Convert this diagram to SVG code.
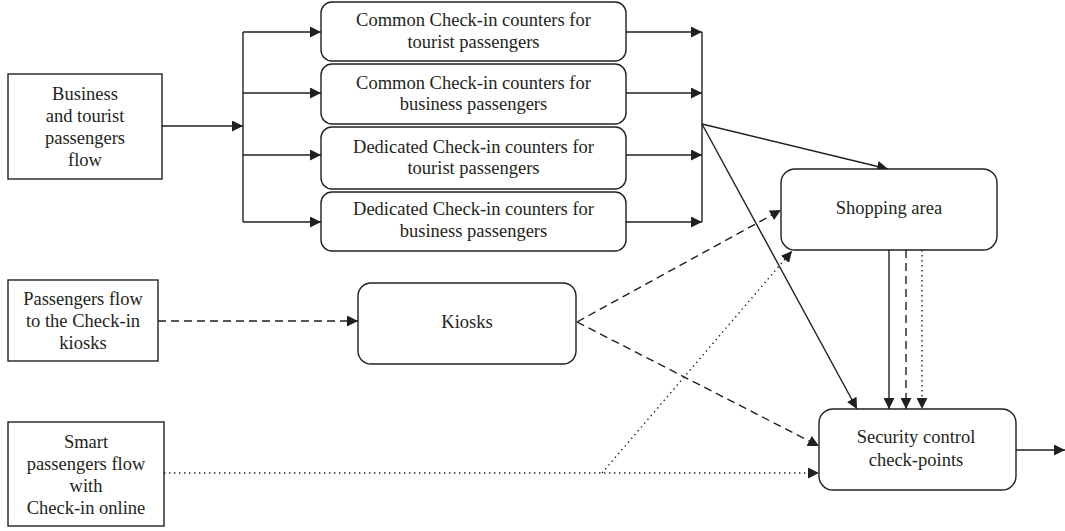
<svg xmlns="http://www.w3.org/2000/svg" width="1065" height="531" viewBox="0 0 1065 531">
<style>
.box{fill:#fff;stroke:#231f20;stroke-width:1.4}
.t{font-family:"Liberation Serif","Times New Roman",serif;font-size:18.5px;fill:#231f20;text-anchor:middle}
.ln{fill:none;stroke:#231f20;stroke-width:1.4}
.dash{stroke-dasharray:8 5}
.dot{stroke-dasharray:1.4 3.6}
</style>
<defs>
<marker id="ah" viewBox="0 0 10 10" refX="10" refY="5" markerWidth="11" markerHeight="11" markerUnits="userSpaceOnUse" orient="auto">
<path d="M0,0 L10,5 L0,10 z" fill="#231f20"/>
</marker>
</defs>
<rect width="1065" height="531" fill="#fff"/>
<g id="connectors">
<line class="ln" x1="162" y1="126" x2="243" y2="126" marker-end="url(#ah)"/>
<line class="ln" x1="243" y1="32" x2="243" y2="222"/>
<line class="ln" x1="243" y1="32" x2="321" y2="32" marker-end="url(#ah)"/>
<line class="ln" x1="243" y1="93" x2="321" y2="93" marker-end="url(#ah)"/>
<line class="ln" x1="243" y1="155" x2="321" y2="155" marker-end="url(#ah)"/>
<line class="ln" x1="243" y1="222" x2="321" y2="222" marker-end="url(#ah)"/>
<line class="ln" x1="626" y1="32" x2="702" y2="32" marker-end="url(#ah)"/>
<line class="ln" x1="626" y1="93" x2="702" y2="93" marker-end="url(#ah)"/>
<line class="ln" x1="626" y1="155" x2="702" y2="155" marker-end="url(#ah)"/>
<line class="ln" x1="626" y1="222" x2="702" y2="222" marker-end="url(#ah)"/>
<line class="ln" x1="702" y1="32" x2="702" y2="222"/>
<line class="ln" x1="702" y1="124" x2="888" y2="169" marker-end="url(#ah)"/>
<line class="ln" x1="702" y1="124" x2="857" y2="409" marker-end="url(#ah)"/>
<line class="ln dash" x1="158" y1="321" x2="358" y2="321" marker-end="url(#ah)"/>
<line class="ln dash" x1="577" y1="322" x2="781" y2="210" marker-end="url(#ah)"/>
<line class="ln dash" x1="577" y1="322" x2="819" y2="446" marker-end="url(#ah)"/>
<line class="ln dot" x1="164" y1="473" x2="819" y2="473" marker-end="url(#ah)"/>
<line class="ln dot" x1="602" y1="473" x2="792" y2="251" marker-end="url(#ah)"/>
<line class="ln" x1="889" y1="250" x2="889" y2="409" marker-end="url(#ah)"/>
<line class="ln dash" x1="906" y1="250" x2="906" y2="409" marker-end="url(#ah)"/>
<line class="ln dot" x1="922" y1="250" x2="922" y2="409" marker-end="url(#ah)"/>
<line class="ln" x1="1016" y1="450" x2="1065" y2="450" marker-end="url(#ah)"/>
</g>
<g id="business">
<rect class="box" x="8" y="74" width="154" height="105"/>
<text class="t" x="85" y="100">Business</text>
<text class="t" x="85" y="122">and tourist</text>
<text class="t" x="85" y="144">passengers</text>
<text class="t" x="85" y="166">flow</text>
</g>
<g id="common-tourist">
<rect class="box" x="321" y="2" width="305" height="59" rx="11"/>
<text class="t" x="473.5" y="26">Common Check-in counters for</text>
<text class="t" x="473.5" y="48">tourist passengers</text>
</g>
<g id="common-business">
<rect class="box" x="321" y="64" width="305" height="60" rx="11"/>
<text class="t" x="473.5" y="89">Common Check-in counters for</text>
<text class="t" x="473.5" y="110">business passengers</text>
</g>
<g id="dedicated-tourist">
<rect class="box" x="321" y="127" width="305" height="62" rx="11"/>
<text class="t" x="473.5" y="153">Dedicated Check-in counters for</text>
<text class="t" x="473.5" y="174">tourist passengers</text>
</g>
<g id="dedicated-business">
<rect class="box" x="321" y="192" width="305" height="59" rx="11"/>
<text class="t" x="473.5" y="215">Dedicated Check-in counters for</text>
<text class="t" x="473.5" y="237">business passengers</text>
</g>
<g id="kiosk-flow">
<rect class="box" x="8" y="280" width="150" height="81"/>
<text class="t" x="83" y="305">Passengers flow</text>
<text class="t" x="83" y="327">to the Check-in</text>
<text class="t" x="83" y="349">kiosks</text>
</g>
<g id="kiosks">
<rect class="box" x="358" y="283" width="218" height="81" rx="13"/>
<text class="t" x="467" y="328">Kiosks</text>
</g>
<g id="smart-flow">
<rect class="box" x="8" y="422" width="156" height="104"/>
<text class="t" x="86" y="448">Smart</text>
<text class="t" x="86" y="470">passengers flow</text>
<text class="t" x="86" y="492">with</text>
<text class="t" x="86" y="514">Check-in online</text>
</g>
<g id="shopping">
<rect class="box" x="781" y="169" width="216" height="81" rx="14"/>
<text class="t" x="889" y="214">Shopping area</text>
</g>
<g id="security">
<rect class="box" x="819" y="409" width="197" height="81" rx="14"/>
<text class="t" x="916" y="443">Security control</text>
<text class="t" x="916" y="466">check-points</text>
</g>
</svg>
